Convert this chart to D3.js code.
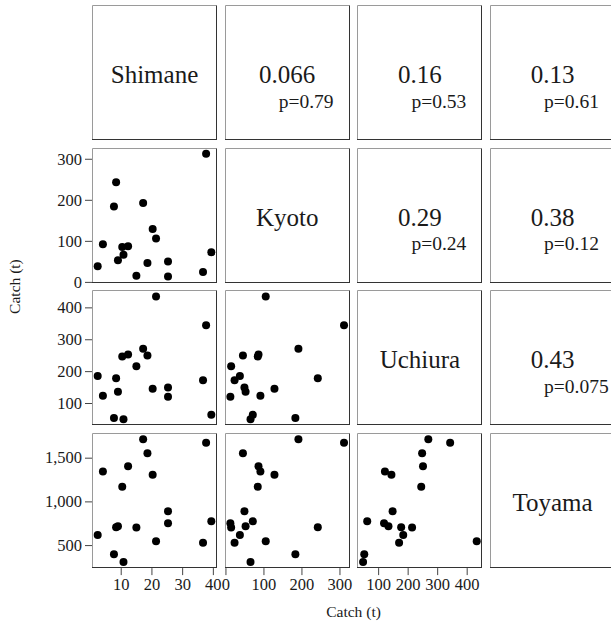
<!DOCTYPE html>
<html>
<head>
<meta charset="utf-8">
<script src="https://cdn.jsdelivr.net/npm/d3@7"></script>
<style>
  html, body { margin: 0; padding: 0; background: #fff; }
  svg { display: block; }
  svg text { font-family: "Liberation Serif", "Times New Roman", Times, serif; fill: #1a1a1a; }
</style>
</head>
<body>
<script>
// Annual catch (t) for four prefectures, one entry per year (same order in each array)
const shimane = [2.5, 4.2, 7.8, 8.5, 9.1, 10.9, 10.5, 12.4, 15.1, 17.3, 18.7, 20.4, 21.5, 25.4, 25.4, 36.8, 37.8, 39.5];
const kyoto   = [38, 92, 184, 243, 53, 66, 85, 87, 15, 192, 46, 129, 106, 50, 13, 24, 312, 72];
const uchiura = [185, 123, 53, 178, 135, 49, 246, 252, 215, 270, 249, 145, 434, 149, 120, 171, 344, 63];
const toyama  = [615, 1342, 395, 705, 715, 307, 1168, 1403, 700, 1711, 1551, 1304, 543, 887, 750, 528, 1672, 772];

const varNames = ["Shimane", "Kyoto", "Uchiura", "Toyama"];

// Pearson r and p for the upper-triangle pairs (row-major: 1-2, 1-3, 1-4, 2-3, 2-4, 3-4)
const corrR = [0.066, 0.16, 0.13, 0.29, 0.38, 0.43];
const corrP = [0.79, 0.53, 0.61, 0.24, 0.12, 0.075];

// Axis tick values per variable
const shimaneTicks = [10, 20, 30, 40];
const kyotoTicks   = [0, 100, 200, 300];
const uchiuraTicks = [100, 200, 300, 400];
const toyamaTicks  = [500, 1000, 1500];

const axisTitle = "Catch (t)";

// ---- layout ----
const W = 611, H = 630;
const left0 = 92, colStep = 132.7, pw = 125;
const top0 = 5, rowStep = 142.7, ph = 135;

const series = [shimane, kyoto, uchiura, toyama];
const ticks = [shimaneTicks, kyotoTicks, uchiuraTicks, toyamaTicks];
const n = varNames.length;

function paddedDomain(vals) {
  const [lo, hi] = d3.extent(vals);
  const pad = (hi - lo) * 0.05;
  return [lo - pad, hi + pad];
}

const colX = i => left0 + i * colStep;
const rowY = i => top0 + i * rowStep;

const xScales = series.map((s, i) => d3.scaleLinear().domain(paddedDomain(s)).range([colX(i), colX(i) + pw]));
const yScales = series.map((s, i) => d3.scaleLinear().domain(paddedDomain(s)).range([rowY(i) + ph, rowY(i)]));

const svg = d3.select("body").append("svg").attr("width", W).attr("height", H);

const fmt = d3.format(",");

// index of each upper-triangle pair
let k = 0;
const pairIndex = {};
for (let r = 0; r < n; r++) for (let c = r + 1; c < n; c++) pairIndex[r + "-" + c] = k++;

for (let r = 0; r < n; r++) {
  for (let c = 0; c < n; c++) {
    const x0 = colX(c), y0 = rowY(r);
    const g = svg.append("g");
    const cx = x0 + pw / 2, cy = y0 + ph / 2;

    if (r > c) {
      // scatter: column variable on x, row variable on y
      const xs = xScales[c], ys = yScales[r];
      g.selectAll("circle")
        .data(d3.range(series[0].length))
        .join("circle")
        .attr("cx", d => xs(series[c][d]))
        .attr("cy", d => ys(series[r][d]))
        .attr("r", 4)
        .attr("fill", "#000");
    } else if (r === c) {
      g.append("text")
        .attr("x", cx).attr("y", cy + 10.5)
        .attr("text-anchor", "middle")
        .style("font-size", "25px")
        .text(varNames[r]);
    } else {
      const idx = pairIndex[r + "-" + c];
      g.append("text")
        .attr("x", cx).attr("y", cy + 10.5)
        .attr("text-anchor", "middle")
        .style("font-size", "25px")
        .text(String(corrR[idx]));
      g.append("text")
        .attr("x", cx - 8.5).attr("y", cy + 35)
        .attr("text-anchor", "start")
        .style("font-size", "19.5px")
        .text("p=" + String(corrP[idx]));
    }

    // panel frame
    const fx0 = Math.round(x0) + 0.5, fy0 = Math.round(y0) + 0.5;
    const fx1 = Math.round(x0 + pw) - 0.5, fy1 = Math.round(y0 + ph) - 0.5;
    g.append("line").attr("x1", fx0).attr("y1", fy0).attr("x2", fx1).attr("y2", fy0).attr("stroke", "#9a9a9a");
    g.append("line").attr("x1", fx0).attr("y1", fy0).attr("x2", fx0).attr("y2", fy1).attr("stroke", "#9a9a9a");
    g.append("line").attr("x1", fx1).attr("y1", fy0).attr("x2", fx1).attr("y2", fy1 + 0.5).attr("stroke", "#333");
    g.append("line").attr("x1", fx0 - 0.5).attr("y1", fy1).attr("x2", fx1 + 0.5).attr("y2", fy1).attr("stroke", "#333");
  }
}

function styleAxis(ax) {
  ax.attr("font-family", null).attr("font-size", null);
  ax.select(".domain").remove();
  ax.selectAll(".tick line").attr("stroke", "#444");
  ax.selectAll(".tick text").attr("fill", null).style("font-size", "16.5px");
}

// left axes for rows 2..4
for (let r = 1; r < n; r++) {
  svg.append("g")
    .attr("transform", `translate(${left0},0)`)
    .call(d3.axisLeft(yScales[r]).tickValues(ticks[r]).tickFormat(fmt).tickSize(7).tickPadding(3))
    .call(styleAxis);
}

// bottom axes for columns 1..3
const bottomY = rowY(n - 1) + ph;
for (let c = 0; c < n - 1; c++) {
  svg.append("g")
    .attr("transform", `translate(0,${bottomY})`)
    .call(d3.axisBottom(xScales[c]).tickValues(ticks[c]).tickFormat(fmt).tickSize(7).tickPadding(3))
    .call(styleAxis);
}

// axis titles
const plotMidX = (left0 + colX(n - 1) + pw) / 2;
const plotMidY = (top0 + rowY(n - 1) + ph) / 2;
svg.append("text")
  .attr("x", plotMidX).attr("y", 617)
  .attr("text-anchor", "middle")
  .style("font-size", "15.5px")
  .text(axisTitle);
svg.append("text")
  .attr("transform", `translate(20,${plotMidY}) rotate(-90)`)
  .attr("text-anchor", "middle")
  .style("font-size", "15.5px")
  .text(axisTitle);
</script>
</body>
</html>
